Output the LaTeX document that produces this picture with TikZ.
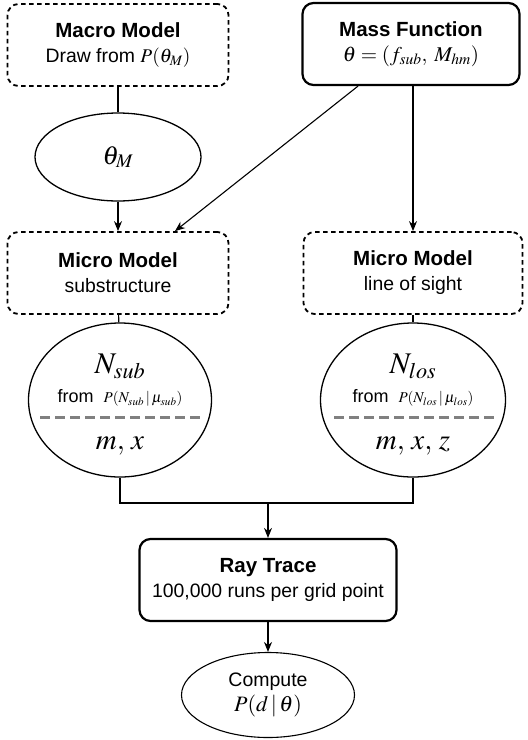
\documentclass[tikz,border=0pt]{standalone}
\usepackage{mathptmx}
\usepackage{fontspec}
\setmainfont{Liberation Sans}
\usetikzlibrary{arrows.meta,shapes.geometric}
\newcommand{\ttl}[1]{{\fontsize{20.5}{25}\selectfont\bfseries #1}}
\begin{document}
\begin{tikzpicture}[x=1pt,y=-1pt,>={Stealth[length=10pt,width=8pt]},
  box/.style={draw,rounded corners=11pt,line width=2.2pt,align=center,
    minimum width=#1,minimum height=82pt,inner sep=2pt,
    font=\fontsize{19.4}{25}\selectfont},
  dbox/.style={box=#1,line width=1.8pt,dash pattern=on 4.5pt off 3.5pt},
  oval/.style={draw,ellipse,line width=1.3pt,inner sep=0pt,align=center},
  sep/.style={gray,line width=3pt,dash pattern=on 10pt off 5pt},
  link/.style={line width=1.1pt}]
\useasboundingbox (0,0) rectangle (528,740);

% top row
\node[dbox=221pt] (macro) at (118,45)
  {\ttl{Macro Model}\\ Draw from $P(\theta_M)$};
\node[box=217pt] (mass) at (411,44)
  {\ttl{Mass Function}\\ {\fontsize{21}{25}\selectfont$\theta = (f_{sub},\; M_{hm})$}};

\node[oval,minimum width=166pt,minimum height=88pt] (thetaM) at (118,157)
  {\fontsize{26}{30}\selectfont$\theta_M$};

% micro models
\node[dbox=221pt] (subm) at (118,273)
  {\ttl{Micro Model}\\ substructure};
\node[dbox=219pt] (losm) at (413,273)
  {\ttl{Micro Model}\\ line of sight};

% draws
\node[oval,minimum width=183pt,minimum height=154pt] (subell) at (120,400) {};
\node (subN) at (120,366) {\fontsize{30}{34}\selectfont$N_{sub}$};
\node (subP) at (120,398) {\fontsize{18}{20}\selectfont from\; {\fontsize{15}{18}\selectfont$P(N_{sub}\,|\,\mu_{sub})$}};
\node (submx) at (120,446) {\fontsize{29}{32}\selectfont$m,\,x$};
\draw[sep] (40,417) -- (202,417);

\node[oval,minimum width=185pt,minimum height=154pt] (losell) at (413,400) {};
\node (losN) at (413,366) {\fontsize{30}{34}\selectfont$N_{los}$};
\node (losP) at (413,398) {\fontsize{18}{20}\selectfont from\; {\fontsize{15}{18}\selectfont$P(N_{los}\,|\,\mu_{los})$}};
\node (losmx) at (413,446) {\fontsize{29}{32}\selectfont$m,\,x,\,z$};
\draw[sep] (334,417) -- (496,417);

% ray trace
\node[box=257pt] (ray) at (268,580)
  {\ttl{Ray Trace}\\ 100,000 runs per grid point};
\node[oval,line width=1.1pt,minimum width=173pt,minimum height=85pt,
  font=\fontsize{19.5}{25}\selectfont] (comp) at (268,695)
  {Compute\\ {\fontsize{22}{25}\selectfont$P(d\,|\,\theta)$}};

\coordinate (join) at (268,503);

% connectors
\draw[link] (macro) -- (thetaM);
\draw[->,link] (thetaM) -- (subm);
\draw[->,link] ([xshift=-53pt]mass.south) -- ([xshift=57pt]subm.north);
\draw[->,link] ([xshift=2pt]mass.south) -- (losm.north);
\draw[link] (subm) -- (subell);
\draw[link] (losm) -- (losell);
\draw[link] (subell.south) |- (join) -| (losell.south);
\draw[->,link] (join) -- (ray);
\draw[->,link] (ray) -- (comp);
\end{tikzpicture}
\end{document}
